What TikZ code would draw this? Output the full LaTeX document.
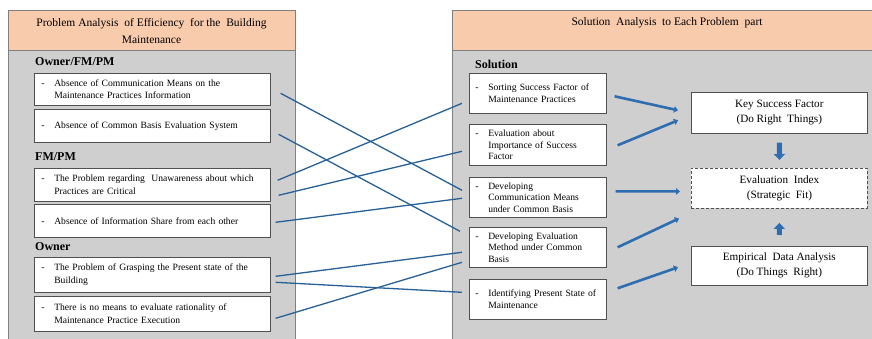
\documentclass[tikz,border=0pt]{standalone}
\usepackage{fontspec}
\setmainfont{Liberation Serif}
\usetikzlibrary{arrows.meta}
\definecolor{peach}{RGB}{248,203,173}
\definecolor{panelgray}{RGB}{208,207,207}
\definecolor{panelborder}{RGB}{128,128,128}
\definecolor{boxborder}{RGB}{80,80,80}
\definecolor{linkblue}{RGB}{38,96,150}
\definecolor{arrowblue}{RGB}{46,110,176}
\newcommand\dsh{\makebox[13pt][l]{-}}
\newcommand\hind{\hspace*{13pt}}
\begin{document}
\begin{tikzpicture}[x=1pt,y=-1pt,
  panel/.style={fill=panelgray,draw=panelborder,line width=0.8pt},
  header/.style={fill=peach,draw=panelborder,line width=0.8pt},
  hdrtext/.style={align=center,font=\fontsize{11.5}{17}\selectfont,inner sep=0pt},
  grouplabel/.style={anchor=west,font=\fontsize{12}{14}\selectfont\bfseries,inner sep=0pt},
  lbox/.style={draw=boxborder,fill=white,line width=0.6pt,anchor=north west,
    minimum width=236pt,text width=222pt,inner xsep=7pt,align=left,
    font=\fontsize{9.6}{12.5}\selectfont},
  mbox/.style={draw=boxborder,fill=white,line width=0.6pt,anchor=north west,
    minimum width=137pt,text width=125pt,inner xsep=6pt,align=left,
    font=\fontsize{9.6}{11.5}\selectfont},
  rbox/.style={draw=boxborder,fill=white,line width=0.6pt,anchor=north west,
    minimum width=176pt,minimum height=41pt,align=center,
    font=\fontsize{11.2}{15}\selectfont},
  link/.style={draw=linkblue,line width=1.3pt},
  thickarrow/.style={draw=arrowblue,line width=2.6pt,-{Triangle[length=4pt,width=6.5pt]}},
  blockarrow/.style={draw=arrowblue,line width=5pt,-{Triangle[length=6pt,width=11pt]}}
]
\useasboundingbox (0,0) rectangle (872,339);

% panels
\path[panel] (8,10) rectangle (295,350);
\path[header] (8,10) rectangle (295,50);
\path[panel] (452,10) rectangle (890,350);
\path[header] (452,10) rectangle (890,50);

\node[hdrtext] (lhead) at (151.5,31.5) {Problem Analysis\ \ of Efficiency\ \ for the\ \ Building\\Maintenance};
\node[hdrtext] (rhead) at (667,23) {Solution\ \ Analysis\ \ to Each Problem\ \ part};

% left group labels
\node[grouplabel] (g1) at (35,62) {Owner/FM/PM};
\node[grouplabel] (g2) at (35,157) {FM/PM};
\node[grouplabel] (g3) at (35,247) {Owner};
\node[grouplabel] (g4) at (475,64) {Solution};

% left boxes
\node[lbox,minimum height=32pt] (L1) at (34,73) {\dsh Absence of Communication\ Means on the\\\hind Maintenance Practices Information};
\node[lbox,minimum height=33pt] (L2) at (34,109) {\dsh Absence of Common Basis Evaluation System};
\node[lbox,minimum height=33pt] (L3) at (34,168) {\dsh The Problem regarding\ \ Unawareness about which\\\hind Practices are Critical};
\node[lbox,minimum height=33pt] (L4) at (34,204) {\dsh Absence of Information Share from each other};
\node[lbox,minimum height=35pt] (L5) at (34,257) {\dsh The Problem of Grasping the Present state of the\\\hind Building};
\node[lbox,minimum height=35pt] (L6) at (34,296) {\dsh There is no means\ to evaluate rationality of\\\hind Maintenance Practice Execution};

% middle boxes
\node[mbox,minimum height=40pt] (M1) at (469,73) {\dsh Sorting Success Factor of\\\hind Maintenance Practices};
\node[mbox,minimum height=41pt] (M2) at (469,124) {\dsh Evaluation about\\\hind Importance of Success\\\hind Factor};
\node[mbox,minimum height=40pt] (M3) at (469,177) {\dsh Developing\\\hind Communication Means\\\hind under Common Basis};
\node[mbox,minimum height=40pt] (M4) at (469,227) {\dsh Developing Evaluation\\\hind Method under Common\\\hind Basis};
\node[mbox,minimum height=40pt] (M5) at (469,279) {\dsh Identifying Present State of\\\hind Maintenance};

% right boxes
\node[rbox] (K) at (691,92) {Key Success Factor\\(Do Right\ \ Things)};
\node[rbox,dashed,dash pattern=on 3pt off 2pt,line width=0.9pt,minimum height=40pt] (E) at (691,168) {Evaluation\ \ Index\\(Strategic\ \ Fit)};
\node[rbox,minimum height=39pt] (D) at (691,246) {Empirical\ \ Data Analysis\\(Do Things\ \ Right)};

% links between left and middle
\draw[link] ([shift={(10,4)}]L1.east) -- ([shift={(-7,-7)}]M3.west);
\draw[link] ([shift={(8,8.5)}]L2.east) -- ([shift={(-9,-16)}]M4.west);
\draw[link] ([shift={(7,-4.5)}]L3.east) -- ([shift={(-7,10)}]M1.west);
\draw[link] ([shift={(8,10.5)}]L3.east) -- ([shift={(-7,6.5)}]M2.west);
\draw[link] ([shift={(5,1.5)}]L4.east) -- ([shift={(-7,1)}]M3.west);
\draw[link] ([shift={(5,1.5)}]L5.east) -- ([shift={(-7,5)}]M4.west);
\draw[link] ([shift={(5,7.5)}]L5.east) -- ([shift={(-7,-7)}]M5.west);
\draw[link] ([shift={(5,4.5)}]L6.east) -- ([shift={(-7,15)}]M4.west);

% arrows from middle to right
\draw[thickarrow] ([shift={(8,3)}]M1.east) -- ([shift={(-13,-2.5)}]K.west);
\draw[thickarrow] ([shift={(11,0.5)}]M2.east) -- ([shift={(-13,7.5)}]K.west);
\draw[thickarrow] ([shift={(9,-6)}]M3.east) -- ([shift={(-11,3)}]E.west);
\draw[thickarrow] ([shift={(11,0)}]M4.east) -- ([shift={(-12,30)}]E.west);
\draw[thickarrow] ([shift={(11,-11)}]M5.east) -- ([shift={(-13,1.5)}]D.west);

% vertical block arrows
\draw[blockarrow] ([shift={(0,9)}]K.south) -- ([shift={(0,-8)}]E.north);
\draw[blockarrow] ([shift={(0,-11)}]D.north) -- ([shift={(0,14)}]E.south);
\end{tikzpicture}
\end{document}
